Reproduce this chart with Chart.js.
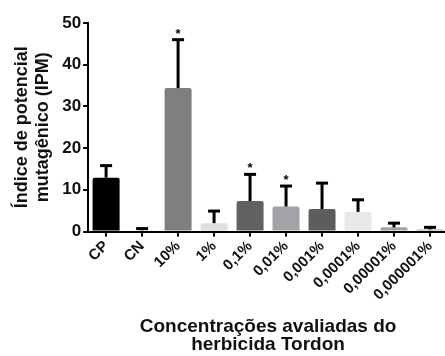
<!DOCTYPE html>
<html>
<head>
<meta charset="utf-8">
<script src="https://cdn.jsdelivr.net/npm/chart.js@4.4.1/dist/chart.umd.min.js"></script>
<style>
  html, body { margin: 0; padding: 0; background: #fff; overflow: hidden; }
</style>
</head>
<body>
<canvas id="grafico" width="448" height="356"></canvas>
<script>
// Dados (IPM médio e desvio)
const categorias = ["CP", "CN", "10%", "1%", "0,1%", "0,01%", "0,001%", "0,0001%", "0,00001%", "0,000001%"];
const medias = [12.9, 0.3, 34.4, 2.0, 7.3, 6.0, 5.4, 4.7, 1.0, 0.5];
const desvios = [2.9, 0.4, 11.6, 2.9, 6.4, 4.9, 6.2, 2.9, 1.0, 0.5];
const significancia = ["", "", "*", "", "*", "*", "", "", "", ""];
const coresBarras = ["#000000", "#d6d6d6", "#7f7f7f", "#dedede", "#616161", "#a3a3a7", "#5d5d5d", "#e8e8e8", "#a2a2a2", "#a9a9a9"];
const ticksY = [0, 10, 20, 30, 40, 50];

const fonte = "'Liberation Sans', Arial, sans-serif";

// Plugin simples para as barras de erro (só para cima) e os asteriscos
const barrasErro = {
  id: "barrasErro",
  afterDatasetsDraw(chart) {
    const ctx = chart.ctx;
    const x = chart.scales.x;
    const y = chart.scales.y;
    ctx.save();
    ctx.strokeStyle = "#000";
    ctx.fillStyle = "#000";
    medias.forEach((m, i) => {
      const cx = x.getPixelForValue(i);
      const yBase = y.getPixelForValue(m);
      const yTopo = y.getPixelForValue(m + desvios[i]);
      ctx.lineWidth = 3;
      ctx.beginPath();
      ctx.moveTo(cx, yBase);
      ctx.lineTo(cx, yTopo);
      ctx.stroke();
      ctx.beginPath();
      ctx.moveTo(cx - 6, yTopo);
      ctx.lineTo(cx + 6, yTopo);
      ctx.stroke();
      if (significancia[i]) {
        ctx.font = "bold 13px " + fonte;
        ctx.textAlign = "center";
        ctx.textBaseline = "bottom";
        ctx.fillText(significancia[i], cx, yTopo + 1);
      }
    });
    ctx.restore();
  }
};

document.addEventListener("DOMContentLoaded", () => {
  const ctx = document.getElementById("grafico").getContext("2d");
  new Chart(ctx, {
    type: "bar",
    data: {
      labels: categorias,
      datasets: [
        {
          label: "IPM",
          data: medias,
          backgroundColor: coresBarras,
          borderRadius: 2,
          borderSkipped: "bottom",
          barPercentage: 0.75,
          categoryPercentage: 1,
        },
      ],
    },
    options: {
      responsive: false,
      animation: false,
      layout: { padding: { top: 23, right: 0, left: 11, bottom: 2 } },
      plugins: {
        legend: { display: false },
        tooltip: { enabled: false },
      },
      scales: {
        y: {
          min: 0,
          max: 50,
          afterBuildTicks: (axis) => {
            axis.ticks = ticksY.map((v) => ({ value: v }));
          },
          border: { display: true, color: "#000", width: 2 },
          grid: { drawOnChartArea: false, drawTicks: true, tickLength: 5, color: "#000", lineWidth: 2 },
          ticks: {
            color: "#111",
            padding: 2,
            font: { family: fonte, size: 17, weight: "bold" },
          },
          title: {
            display: true,
            text: ["Índice de potencial", "mutagênico (IPM)"],
            color: "#111",
            padding: { top: 0, bottom: 6 },
            font: { family: fonte, size: 18, weight: "bold", lineHeight: 1.2 },
          },
        },
        x: {
          offset: true,
          border: { display: true, color: "#000", width: 2 },
          grid: { drawOnChartArea: false, drawTicks: true, tickLength: 5, color: "#000", lineWidth: 2, offset: false },
          ticks: {
            color: "#111",
            minRotation: 45,
            maxRotation: 45,
            autoSkip: false,
            padding: 1,
            font: { family: fonte, size: 15, weight: "bold" },
          },
          title: {
            display: true,
            text: ["Concentrações avaliadas do", "herbicida Tordon"],
            color: "#111",
            padding: { top: 13, bottom: 0 },
            font: { family: fonte, size: 19, weight: "bold", lineHeight: 0.95 },
          },
        },
      },
    },
    plugins: [barrasErro],
  });
});
</script>
</body>
</html>
